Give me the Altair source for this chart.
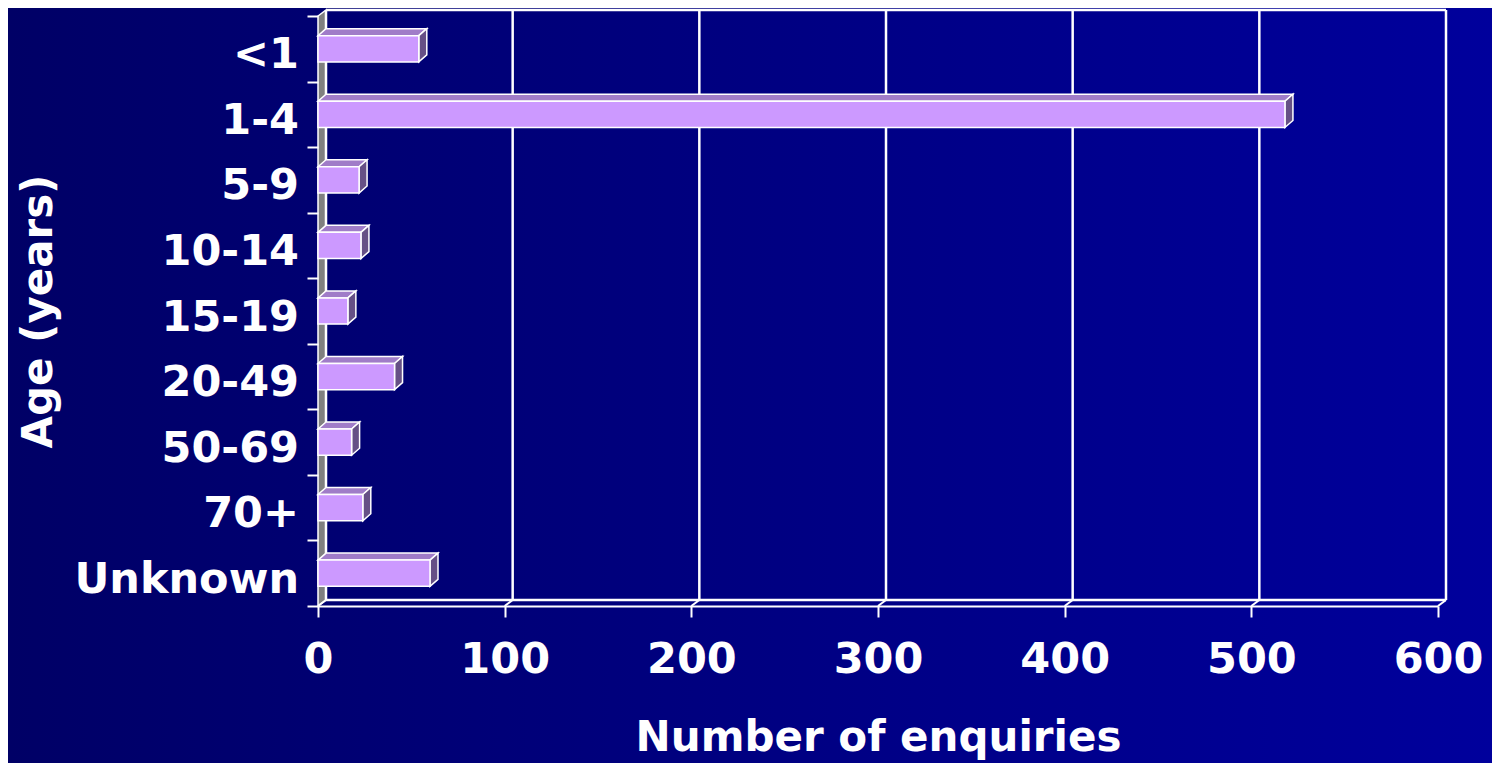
import altair as alt
import pandas as pd

# ---- data ----
categories = ["<1", "1-4", "5-9", "10-14", "15-19", "20-49", "50-69", "70+", "Unknown"]
enquiries = [54, 518, 22, 23, 16, 41, 18, 24, 60]
x_ticks = [0, 100, 200, 300, 400, 500, 600]

FONT = "DejaVu Sans"
W, H = 1120, 590
X_MAX = 600
N = len(categories)

# pixel -> data unit conversions for the 3-D depth offsets
ux = X_MAX / W
uy = N / H
DXW, DYW = 8 * ux, 6 * uy      # wall depth
DXB, DYB = 8 * ux, 7 * uy      # bar depth
BAR_H = 0.40                   # fraction of band

XS = alt.Scale(domain=[0, X_MAX], nice=False, zero=False)
YS = alt.Scale(domain=[0, N], reverse=True, nice=False, zero=False)

XAXIS = alt.Axis(values=x_ticks, title="Number of enquiries", grid=False, zindex=1,
                 domainColor="white", domainWidth=2, tickColor="white", tickWidth=2,
                 tickSize=11, labelColor="white", labelFont=FONT, labelFontSize=43,
                 labelFontWeight="bold", labelPadding=21, labelFlush=False,
                 labelOverlap=False, format="d", titleColor="white", titleFont=FONT,
                 titleFontSize=42, titleFontWeight="bold", titlePadding=36)
YAXIS = alt.Axis(values=list(range(N + 1)), labels=False, title="Age (years)", grid=False,
                 zindex=1, domain=False, tickColor="white", tickWidth=2, tickSize=11,
                 titleColor="white", titleFont=FONT, titleFontSize=42,
                 titleFontWeight="bold", titleX=-280, titleY=H / 2,
                 titleBaseline="middle")


def X(f):
    return alt.X(f, type="quantitative", scale=XS, axis=XAXIS, stack=None)


def Y(f):
    return alt.Y(f, type="quantitative", scale=YS, axis=YAXIS, stack=None)


# ---- tables built from the arrays ----
bars = pd.DataFrame({"cat": categories, "v": enquiries, "idx": range(N)})
bars["zero"] = 0
bars["ytop"] = bars["idx"] + 0.5 - BAR_H / 2
bars["ybot"] = bars["idx"] + 0.5 + BAR_H / 2
bars["yc"] = bars["idx"] + 0.5

top_rows, side_rows = [], []
for c, v, yt, yb in zip(bars["cat"], bars["v"], bars["ytop"], bars["ybot"]):
    top_rows.append({"cat": c, "y": yt, "x": 0, "x2": v})
    top_rows.append({"cat": c, "y": yt - DYB, "x": DXB, "x2": v + DXB})
    side_rows.append({"cat": c, "x": v, "y": yt, "y2": yb})
    side_rows.append({"cat": c, "x": v + DXB, "y": yt - DYB, "y2": yb - DYB})
top_df = pd.DataFrame(top_rows)
side_df = pd.DataFrame(side_rows)

wall_df = pd.DataFrame([{"x": 0, "y": 0, "y2": N}, {"x": DXW, "y": -DYW, "y2": N - DYW}])
grid_df = pd.DataFrame({"x": [t + DXW for t in x_ticks], "y": -DYW, "y2": N - DYW})
conn_df = pd.DataFrame({"x": x_ticks, "x2": [t + DXW for t in x_ticks], "y": N, "y2": N - DYW})
hl_df = pd.DataFrame({"x": [DXW, DXW], "x2": [X_MAX + DXW, X_MAX + DXW], "y": [-DYW, N - DYW]})

bg = alt.Chart(pd.DataFrame({"a": [0]})).mark_rect(
    clip=False,
    fill={"gradient": "linear", "x1": 0, "x2": 1, "y1": 0, "y2": 0,
          "stops": [{"offset": 0, "color": "#000066"}, {"offset": 1, "color": "#00009C"}]},
).encode(x=alt.value(-310), x2=alt.value(W + 54), y=alt.value(-8), y2=alt.value(H + 157))

wall = alt.Chart(wall_df).mark_area(orient="vertical", fill="#808080", stroke="white",
                                     strokeWidth=1.5, clip=False).encode(
    x=X("x"), y=Y("y"), y2="y2")

grid = alt.Chart(grid_df).mark_rule(color="white", strokeWidth=2.5, clip=False).encode(
    x=X("x"), y=Y("y"), y2="y2")

hlines = alt.Chart(hl_df).mark_rule(color="white", strokeWidth=2.5, clip=False).encode(
    x=X("x"), x2="x2", y=Y("y"))

conn = alt.Chart(conn_df).mark_rule(color="white", strokeWidth=2, clip=False).encode(
    x=X("x"), x2="x2", y=Y("y"), y2="y2")

top_face = alt.Chart(top_df).mark_area(orient="horizontal", fill="#A07CC8", stroke="white",
                                        strokeWidth=1.5, clip=False).encode(
    y=Y("y"), x=X("x"), x2="x2", detail="cat:N")

side_face = alt.Chart(side_df).mark_area(orient="vertical", fill="#665086", stroke="white",
                                          strokeWidth=1.5, clip=False).encode(
    x=X("x"), y=Y("y"), y2="y2", detail="cat:N")

front = alt.Chart(bars).mark_rect(fill="#CC99FF", stroke="white", strokeWidth=1.5,
                                  clip=False).encode(
    x=X("zero"), x2="v", y=Y("ytop"), y2="ybot")

labels = alt.Chart(bars).mark_text(align="right", baseline="alphabetic", dy=19.5,
                                   font=FONT, fontSize=43, fontWeight="bold",
                                   color="white").encode(
    x=alt.value(-19), y=Y("yc"), text="cat:N")

chart = alt.layer(bg, wall, grid, hlines, conn, top_face, side_face, front, labels).properties(
    width=W, height=H,
    padding={"left": 310, "top": 8, "right": 54, "bottom": 157},
    autosize=alt.AutoSizeParams(type="none"),
    background="#000066",
).configure_view(strokeWidth=0)

chart.save("out.html", embed_options={"renderer": "svg", "actions": False})
